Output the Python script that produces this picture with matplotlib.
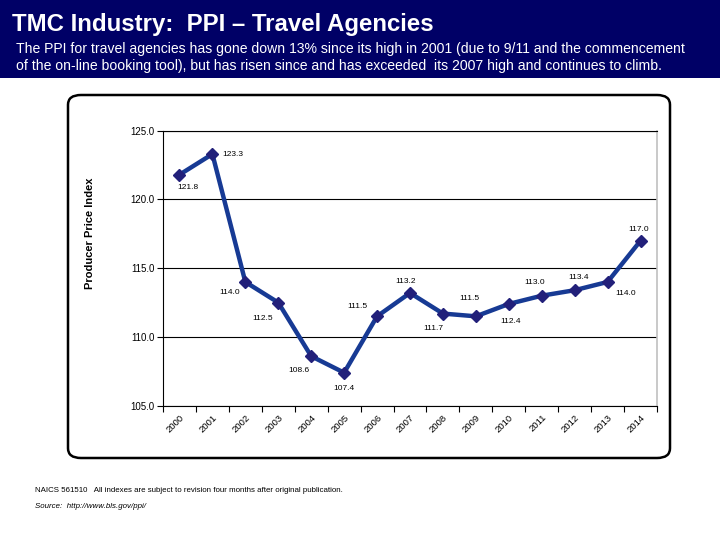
import matplotlib
matplotlib.use("Agg")
import matplotlib.pyplot as plt
from matplotlib.patches import FancyBboxPatch, Rectangle

plt.rcParams['font.family'] = ['Liberation Sans', 'DejaVu Sans']

years = ['2000', '2001', '2002', '2003', '2004', '2005', '2006', '2007',
         '2008', '2009', '2010', '2011', '2012', '2013', '2014']
ppi = [121.8, 123.3, 114.0, 112.5, 108.6, 107.4, 111.5, 113.2,
       111.7, 111.5, 112.4, 113.0, 113.4, 114.0, 117.0]
yticks = [105.0, 110.0, 115.0, 120.0, 125.0]

# label offsets in pixels (dx, dy) from each point
offsets = [(8, -13), (20, 0), (-16, -11), (-16, -16), (-12, -14), (0, -16),
           (-20, 10), (-4, 11), (-10, -15), (-6, 18), (2, -18), (-7, 13),
           (4, 13), (18, -12), (-2, 11)]

fig = plt.figure(figsize=(7.2, 5.4), dpi=100)

# header band
fig.patches.append(Rectangle((0, 1 - 78 / 540), 1, 78 / 540, transform=fig.transFigure,
                             facecolor='#000066', edgecolor='none', zorder=0))
fig.text(12 / 720, 1 - 24 / 540, 'TMC Industry:  PPI \u2013 Travel Agencies', color='white',
         fontsize=17.3, fontweight='bold', va='center', ha='left')
fig.text(16 / 720, 1 - 49 / 540,
         'The PPI for travel agencies has gone down 13% since its high in 2001 (due to 9/11 and the commencement',
         color='white', fontsize=10.1, va='center', ha='left')
fig.text(16 / 720, 1 - 66 / 540,
         'of the on-line booking tool), but has risen since and has exceeded  its 2007 high and continues to climb.',
         color='white', fontsize=10.1, va='center', ha='left')

# rounded frame
fig.patches.append(FancyBboxPatch((68 / 720, 1 - 458 / 540), (670 - 68) / 720, (458 - 95) / 540,
                                  boxstyle='round,pad=0,rounding_size=0.018',
                                  transform=fig.transFigure, facecolor='white',
                                  edgecolor='black', linewidth=1.8, zorder=1))

ax = fig.add_axes([163 / 720, 1 - 405.7 / 540, (657 - 163) / 720, (405.7 - 130.7) / 540])
ax.set_zorder(2)
x = list(range(len(years)))
ax.plot(x, ppi, color='#173a94', linewidth=3.2, marker='D', markersize=6,
        markerfacecolor='#22207a', markeredgecolor='#22207a', zorder=3)

for xi, v, (dx, dy) in zip(x, ppi, offsets):
    ax.annotate(f'{v:.1f}', (xi, v), xytext=(dx * 0.72, dy * 0.72), textcoords='offset points',
                ha='center', va='center', fontsize=6)

ax.set_xlim(-0.5, len(years) - 0.5)
ax.set_ylim(105, 125)
ax.set_yticks(yticks)
ax.set_yticklabels([f'{t:.1f}' for t in yticks], fontsize=7)
ax.grid(axis='y', color='black', linewidth=0.8)
ax.set_axisbelow(True)

ax.set_xticks(x)
ax.set_xticklabels(years, fontsize=6.8, rotation=45, ha='right', rotation_mode='anchor')
ax.tick_params(axis='x', which='major', length=0, pad=5)
ax.set_xticks([i + 0.5 for i in range(-1, len(years))], minor=True)
ax.tick_params(axis='x', which='minor', length=4, width=0.8)
ax.tick_params(axis='y', length=4, width=0.8, pad=2)

for s in ['left', 'bottom', 'top']:
    ax.spines[s].set_color('black')
    ax.spines[s].set_linewidth(0.8)
ax.spines['right'].set_color('#c0c0c0')
ax.spines['right'].set_linewidth(1.2)

fig.text(90 / 720, 1 - 233 / 540, 'Producer Price Index', rotation=90, fontsize=8,
         fontweight='bold', ha='center', va='center')

fig.text(35 / 720, 1 - 491 / 540,
         'NAICS 561510   All indexes are subject to revision four months after original publication.',
         fontsize=5.7, ha='left', va='center')
fig.text(35 / 720, 1 - 507 / 540, 'Source:  http://www.bls.gov/ppi/', fontsize=5.7,
         style='italic', ha='left', va='center')

fig.savefig('out.png', dpi=100)
